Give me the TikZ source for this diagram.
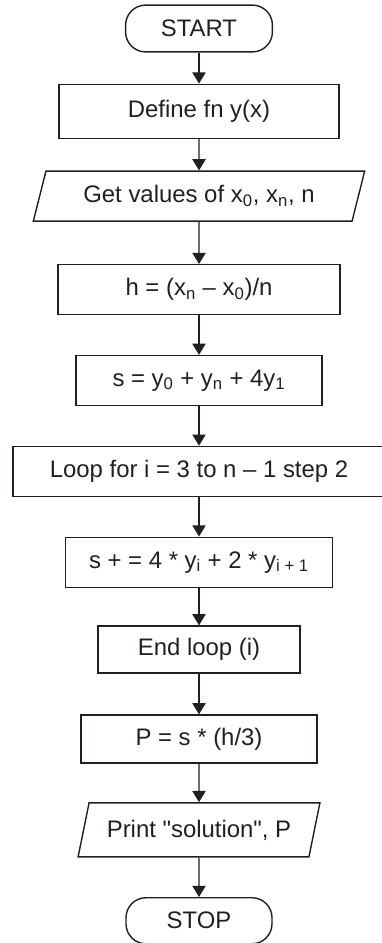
\documentclass[tikz,border=0pt]{standalone}
\usepackage{fontspec}
\setmainfont{Liberation Sans}
\usepackage{xcolor}
\usetikzlibrary{shapes,arrows.meta,positioning}
\definecolor{ink}{HTML}{231F20}

\begin{document}
\begin{tikzpicture}[x=0.025cm, y=0.025cm, node distance=2.27cm,
  every node/.style={font=\fontsize{17}{20}\selectfont, text=ink},
  proc/.style={draw=ink, line width=1pt, rectangle, minimum height=1.25cm},
  io/.style={draw=ink, line width=1pt, trapezium, trapezium left angle=72,
    trapezium right angle=108, trapezium stretches=true, minimum height=1.25cm},
  term/.style={draw=ink, line width=1pt, rectangle, rounded corners=0.5cm, minimum height=1.17cm},
  flow/.style={draw=ink, line width=1pt, -{Triangle[width=0.33cm,length=0.28cm]}}]
\useasboundingbox (0,0) rectangle (382,-943);
\node (start) [term, minimum width=3.67cm] at (199,-28.5) {START};
\node (define) [proc, minimum width=7cm, minimum height=1.35cm, node distance=2.07cm, below of=start] {Define fn y(x)};
\node (getval) [io, minimum width=8.3cm, node distance=2.12cm, below of=define] {Get values of x\textsubscript{0}, x\textsubscript{n}, n};
\node (step) [proc, minimum width=7.05cm, node distance=2.34cm, below of=getval] {h = (x\textsubscript{n} -- x\textsubscript{0})/n};
\node (sinit) [proc, minimum width=6.15cm, below of=step] {s = y\textsubscript{0} + y\textsubscript{n} + 4y\textsubscript{1}};
\node (loop) [proc, minimum width=9.3cm, below of=sinit] {Loop for i = 3 to n -- 1 step 2};
\node (sadd) [proc, minimum width=6.67cm, below of=loop] {s + = 4 * y\textsubscript{i} + 2 * y\textsubscript{i + 1}};
\node (endloop) [proc, minimum width=5.05cm, minimum height=1.17cm, node distance=2.18cm, below of=sadd] {End loop (i)};
\node (result) [proc, minimum width=5.9cm, minimum height=1.2cm, node distance=2.24cm, below of=endloop] {P = s * (h/3)};
\node (print) [io, minimum width=6.05cm, minimum height=1.35cm, below of=result] {Print \textquotedbl solution\textquotedbl, P};
\node (stop) [term, minimum width=3.65cm, minimum height=1.15cm, below of=print] {STOP};

\draw[flow] (start) -- (define);
\draw[flow] (define) -- (getval);
\draw[flow] (getval) -- (step);
\draw[flow] (step) -- (sinit);
\draw[flow] (sinit) -- (loop);
\draw[flow] (loop) -- (sadd);
\draw[flow] (sadd) -- (endloop);
\draw[flow] (endloop) -- (result);
\draw[flow] (result) -- (print);
\draw[flow] (print) -- (stop);
\end{tikzpicture}
\end{document}
